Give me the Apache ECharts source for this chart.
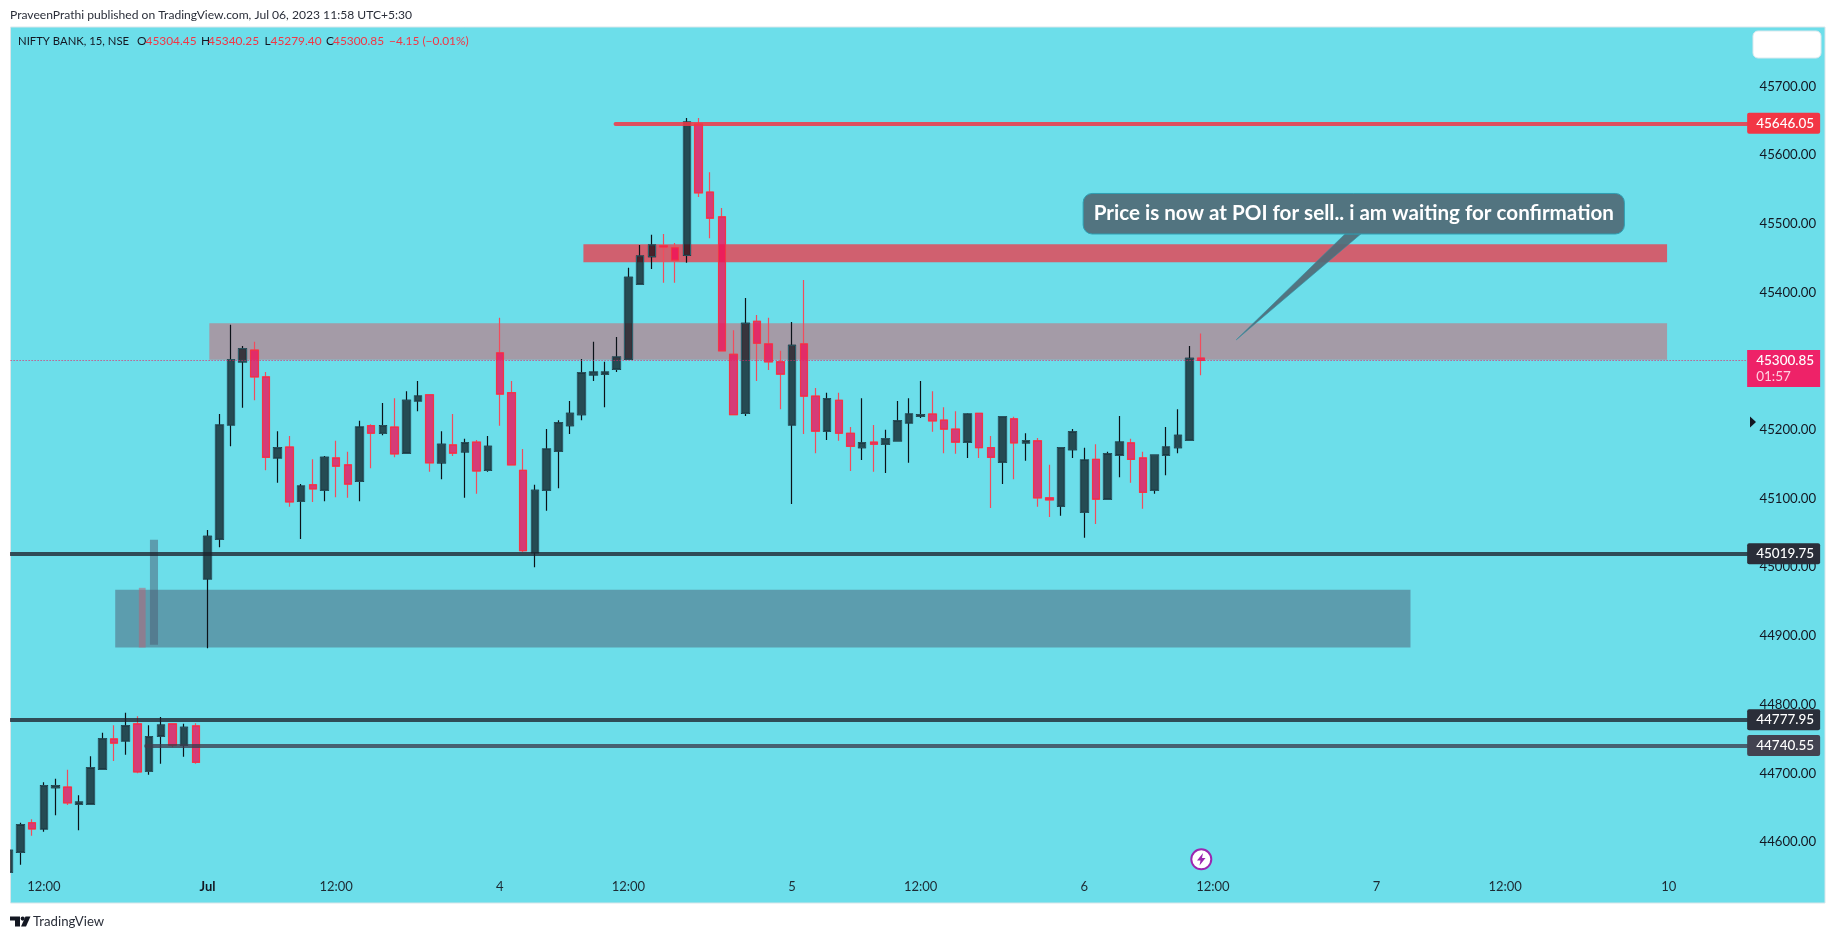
<!DOCTYPE html>
<html>
<head>
<meta charset="utf-8">
<style>html,body{margin:0;padding:0;background:#fff}#main{width:1835px;height:939px}</style>
<script src="https://cdn.jsdelivr.net/npm/echarts@6/dist/echarts.min.js"></script>
</head>
<body>
<div id="main"></div>
<script>
// 15 min bars, Jun 30 (part) to Jul 6 2023. index 0 is the first bar of Jul 3
var firstBar = -17
var opens = [44556,44585,44628,44619,44679,44680,44655,44655,44706,44750,44747,44772,44703,44754,44772,44741,44769,
    44983,45041,45207,45299,45316,45277,45159,45175,45096,45120,45112,45159,45149,45125,45206,45195,45204,45166,45242,45251,45152,45178,45168,45182,45141,45312,45254,45141,45021,45112,45169,45206,45222,45280,45281,45288,45303,45412,45452,45468,45465,45454,
    45645,45546,45510,45310,45224,45358,45325,45299,45207,45325,45249,45198,45243,45195,45174,45182,45179,45184,45210,45220,45223,45214,45201,45182,45224,45174,45153,45216,45181,45184,45101,45089,45171,45080,45157,45099,45163,45181,45159,45112,45163,45174,45185,45304.45]
var closes = [44588,44625,44619,44682,44682,44657,44658,44708,44750,44744,44769,44702,44753,44770,44741,44767,44716,
    45045,45207,45302,45318,45277,45160,45174,45095,45118,45114,45160,45147,45121,45204,45195,45206,45165,45243,45249,45152,45179,45166,45181,45140,45176,45252,45149,45024,45112,45172,45210,45224,45283,45284,45284,45306,45422,45453,45469,45466,45447,45648,
    45545,45508,45315,45222,45355,45326,45299,45281,45323,45249,45198,45245,45195,45176,45181,45179,45187,45213,45223,45222,45213,45201,45182,45223,45174,45160,45219,45181,45184,45101,45098,45174,45197,45156,45099,45165,45182,45157,45109,45163,45175,45192,45304,45300.85]
var lows = [44556,44567,44609,44615,44639,44654,44617,44655,44705,44718,44727,44700,44698,44714,44738,44724,44714,
    44882,45029,45176,45232,45243,45141,45123,45088,45041,45095,45096,45102,45101,45096,45144,45192,45160,45165,45227,45139,45128,45162,45101,45107,45139,45206,45149,45022,45000,45082,45115,45194,45214,45271,45233,45284,45302,45411,45434,45414,45414,45443,
    45539,45479,45315,45222,45220,45271,45287,45230,45092,45194,45166,45185,45184,45140,45156,45139,45137,45184,45152,45217,45197,45166,45165,45159,45159,45086,45121,45128,45155,45088,45073,45075,45159,45043,45063,45098,45131,45123,45085,45107,45134,45166,45185,45279.4]
var highs = [44590,44628,44633,44687,44692,44705,44668,44725,44759,44770,44788,44783,44770,44782,44772,44772,44773,
    45054,45223,45353,45322,45328,45284,45198,45191,45121,45157,45162,45184,45168,45213,45208,45239,45246,45256,45271,45251,45198,45223,45187,45185,45191,45363,45271,45172,45120,45201,45214,45242,45303,45328,45299,45335,45436,45469,45484,45485,45472,45654,
    45654,45575,45523,45345,45392,45367,45363,45315,45357,45418,45261,45254,45254,45204,45246,45207,45200,45242,45246,45271,45256,45233,45227,45224,45224,45191,45219,45219,45195,45188,45149,45174,45201,45174,45179,45168,45220,45187,45168,45163,45204,45230,45322,45340.25]

var barCount = 150
var tickBars = [-14, 0, 11, 25, 36, 50, 61, 75, 86, 100, 111, 125]
var tickLabels = ['12:00', 'Jul', '12:00', '4', '12:00', '5', '12:00', '6', '12:00', '7', '12:00', '10']

// drawn levels and boxes
var lastPrice = 45300.85
var lastTimer = '01:57'
var highLine = 45646.05
var levelA = 45019.75
var levelB = 44777.95
var levelC = 44740.55
var sellZone = [32.15, 124.85, 45470, 45444]
var poiZone = [0.15, 124.85, 45355, 45302]
var demandZone = [-7.9, 102.9, 44967, 44883]
var thinTeal = [-4.93, -4.24, 45040, 44887]
var thinGrey = [-5.88, -5.3, 44970, 44883]
var noteBox = [74.9, 121.2, 45544, 45485]
var noteTail = [97.3, 98.65, 88, 45331]
var noteText = 'Price is now at POI for sell.. i am waiting for confirmation'

// header strip of the chart
var legendTexts = ['NIFTY BANK, 15, NSE', 'O', '45304.45', 'H', '45340.25', 'L', '45279.40', 'C', '45300.85', '\u22124.15 (\u22120.01%)']
var legendLeft = [18, 137, 145.5, 201, 208, 264.5, 270.5, 326, 333, 389]

var FONT = 'Lato'
var xMin = firstBar - 0.5
var xMax = xMin + barCount
var leftEdge = firstBar + 0.15
var tagStart = 131.7

var categories = []
for (var i = 0; i < barCount; i++) categories.push(String(firstBar + i))
var candleData = [], bodyData = []
for (var n = 0; n < opens.length; n++) {
    candleData.push([opens[n], closes[n], lows[n], highs[n]])
    bodyData.push([opens[n], closes[n], Math.min(opens[n], closes[n]), Math.max(opens[n], closes[n])])
}

function level(startX, price, lineColor, tagColor, text) {
    return [
        {
            xAxis: startX, yAxis: price,
            label: {
                show: true, position: 'end', distance: 0, formatter: text,
                color: '#fff', backgroundColor: tagColor, borderRadius: 2,
                padding: [4, 6, 3, 9], fontFamily: FONT, fontSize: 13.5, fontWeight: 500
            },
            lineStyle: {color: lineColor, width: 4, type: 'solid', cap: 'round'}
        },
        {xAxis: tagStart, yAxis: price}
    ]
}
function zone(z, color) {
    return [{xAxis: z[0], yAxis: z[2], itemStyle: {color: color}}, {xAxis: z[1], yAxis: z[3]}]
}

var graphics = [
    {type: 'rect', z: -10, silent: true, shape: {x: 10.5, y: 27, width: 1814.5, height: 876},
        style: {fill: '#6cdeea', stroke: '#d9e6ea', lineWidth: 1}},
    {type: 'rect', z: 100, silent: true, shape: {x: 0, y: 20, width: 10, height: 890}, style: {fill: '#fff'}},
    {type: 'rect', z: 100, silent: true, shape: {x: 1753, y: 31, width: 68, height: 27, r: 5},
        style: {fill: '#fff', stroke: '#dbe9ee', lineWidth: 1}},
    {type: 'polygon', z: 100, silent: true, shape: {points: [[1750, 416.5], [1756, 422], [1750, 427.5]]}, style: {fill: '#131722'}},
    {type: 'text', z: 100, silent: true, x: 10, y: 15, style: {
        text: 'PraveenPrathi published on TradingView.com, Jul 06, 2023 11:58 UTC+5:30',
        font: '12.1px ' + FONT, fill: '#2a2e39', verticalAlign: 'middle'}},
    // published-by logo
    {type: 'polygon', z: 100, silent: true, shape: {points: [[10, 916.5], [20, 916.5], [20, 926.5], [15, 926.5], [15, 920.5], [10, 920.5]]}, style: {fill: '#131722'}},
    {type: 'circle', z: 100, silent: true, shape: {cx: 22.7, cy: 918.6, r: 2.1}, style: {fill: '#131722'}},
    {type: 'polygon', z: 100, silent: true, shape: {points: [[25.5, 916.5], [30.5, 916.5], [26, 926.5], [21, 926.5]]}, style: {fill: '#131722'}},
    {type: 'text', z: 100, silent: true, x: 33, y: 921.5, style: {text: 'TradingView', font: '13.2px ' + FONT, fill: '#2a2e39', verticalAlign: 'middle'}},
    // earnings marker
    {type: 'circle', z: 100, silent: true, shape: {cx: 1201.3, cy: 859.3, r: 10}, style: {fill: '#fff', stroke: '#9c27b0', lineWidth: 2}},
    {type: 'polygon', z: 101, silent: true, shape: {points: [[1203, 853], [1197, 860.5], [1200.5, 860.5], [1199.5, 865.5], [1205.5, 858], [1202, 858]]}, style: {fill: '#9c27b0'}}
]
for (var t = 0; t < legendTexts.length; t++) {
    var isKey = t < 2 || (t < 9 && t % 2 === 1)
    graphics.push({type: 'text', z: 100, silent: true, x: legendLeft[t], y: 41.5, style: {
        text: legendTexts[t], font: (t === 0 ? '11.3px ' : '11.9px ') + FONT, fill: isKey ? '#131722' : '#f23645', verticalAlign: 'middle'}})
}

var option = {
    animation: false,
    backgroundColor: '#fff',
    textStyle: {fontFamily: FONT},
    grid: {left: 3, top: 17.6, width: 1753.5, height: 893.1},
    xAxis: [{
        type: 'category', data: categories, boundaryGap: true,
        axisLine: {show: false}, axisTick: {show: false}, splitLine: {show: false},
        axisLabel: {
            inside: true, margin: 17, interval: 0, color: '#1d2a33', fontSize: 13,
            formatter: function (v) {
                var at = tickBars.indexOf(Number(v))
                if (at < 0) return ''
                return tickLabels[at] === 'Jul' ? '{b|Jul}' : tickLabels[at]
            },
            rich: {b: {fontWeight: 700, fontSize: 13, color: '#131722'}}
        }
    }, {
        type: 'value', min: xMin, max: xMax, show: false
    }],
    yAxis: {
        type: 'value', position: 'right', min: 44500, max: 45800, interval: 100, z: 1,
        axisLine: {show: false}, axisTick: {show: false}, splitLine: {show: false},
        axisLabel: {
            margin: 3, color: '#131722', fontSize: 13.2, padding: [2, 0, 0, 0], showMinLabel: false, showMaxLabel: false,
            formatter: function (v) { return v.toFixed(2) }
        }
    },
    graphic: graphics,
    series: [
        {
            name: 'wicks', type: 'candlestick', xAxisIndex: 0, barWidth: 8, z: 2, silent: true,
            data: candleData,
            itemStyle: {color: 'transparent', color0: 'transparent', borderColor: '#0b1218', borderColor0: '#f24c5c', borderWidth: 1.2}
        },
        {
            name: 'bodies', type: 'candlestick', xAxisIndex: 0, barWidth: 8, z: 3, silent: true,
            data: bodyData,
            itemStyle: {color: 'rgba(3,3,9,0.67)', color0: 'rgba(245,10,85,0.77)', borderColor: '#2e5f6b', borderColor0: '#f23645', borderWidth: 1}
        },
        {
            name: 'drawings', type: 'line', xAxisIndex: 1, data: [[xMin, lastPrice]], symbol: 'none', silent: true, z: 1,
            lineStyle: {width: 0},
            markArea: {
                silent: true, z: 1, label: {show: false},
                data: [
                    zone(sellZone, 'rgba(242,54,69,0.75)'),
                    zone(poiZone, 'rgba(220,87,100,0.5)'),
                    zone(demandZone, 'rgba(76,90,112,0.49)'),
                    zone(thinTeal, 'rgba(76,90,112,0.49)'),
                    zone(thinGrey, 'rgba(180,100,120,0.55)')
                ]
            },
            markLine: {
                silent: true, symbol: 'none', z: 5,
                data: [
                    level(34.9, highLine, 'rgba(242,54,69,0.85)', '#f23645', '45646.05'),
                    level(leftEdge, levelA, 'rgba(30,34,45,0.78)', '#2a2e39', '45019.75'),
                    level(leftEdge, levelB, 'rgba(30,34,45,0.78)', '#2a2e39', '44777.95'),
                    level(-5.25, levelC, 'rgba(60,62,78,0.78)', '#434351', '44740.55'),
                    [
                        {xAxis: leftEdge, yAxis: lastPrice, lineStyle: {color: '#e91e63', width: 1, type: [1, 2]},
                            label: {
                                show: true, position: 'end', distance: 0, offset: [0, 8],
                                formatter: '{p|45300.85}\n{t|' + lastTimer + '}',
                                backgroundColor: '#ee2268', padding: [3, 6, 2, 9], align: 'left',
                                rich: {
                                    p: {color: '#fff', fontSize: 13.5, fontWeight: 500, lineHeight: 16, fontFamily: FONT},
                                    t: {color: '#ffd0e0', fontSize: 13.5, lineHeight: 16, fontFamily: FONT}
                                }
                            }},
                        {xAxis: tagStart, yAxis: lastPrice}
                    ]
                ]
            }
        },
        {
            name: 'note', type: 'custom', xAxisIndex: 1, coordinateSystem: 'cartesian2d', z: 6, silent: true, clip: false,
            data: [[noteTail[2], noteTail[3]]],
            encode: {x: 0, y: 1},
            renderItem: function (params, api) {
                var tl = api.coord([noteBox[0], noteBox[2]])
                var br = api.coord([noteBox[1], noteBox[3]])
                var a = api.coord([noteTail[0], noteBox[3]])
                var b = api.coord([noteTail[1], noteBox[3]])
                var tip = api.coord([noteTail[2], noteTail[3]])
                var fill = 'rgba(80,106,118,0.92)'
                return {
                    type: 'group',
                    children: [
                        {type: 'polygon', shape: {points: [a, b, tip]}, style: {fill: fill, stroke: '#2f8fa3', lineWidth: 0.6}},
                        {type: 'rect', shape: {x: tl[0], y: tl[1], width: br[0] - tl[0], height: br[1] - tl[1], r: 9},
                            style: {fill: fill, stroke: '#2f9fb3', lineWidth: 1}},
                        {type: 'text', x: (tl[0] + br[0]) / 2, y: (tl[1] + br[1]) / 2,
                            style: {text: noteText, fill: '#fff', font: 'bold 20.6px ' + FONT, align: 'center', verticalAlign: 'middle'}}
                    ]
                }
            }
        }
    ]
}

var myChart = echarts.init(document.getElementById('main'))
myChart.setOption(option)
</script>
</body>
</html>
